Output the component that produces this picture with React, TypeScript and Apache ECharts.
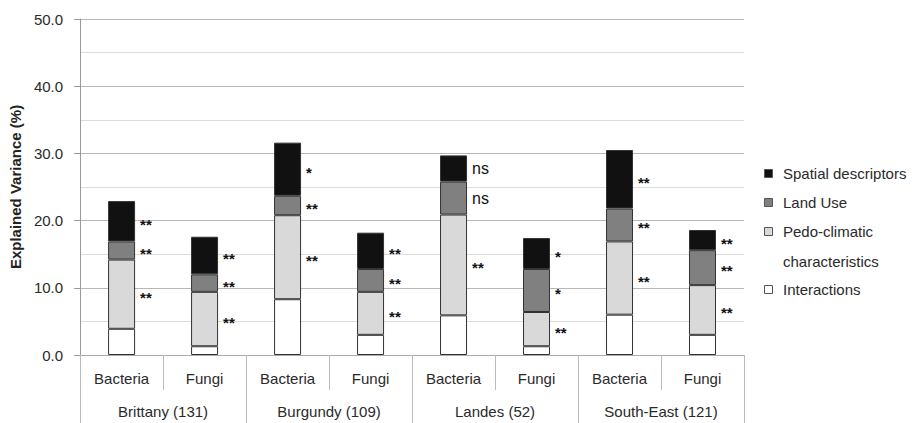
import React, { useEffect, useRef } from "react";
import * as echarts from "echarts";

const groups = ["Bacteria", "Fungi", "Bacteria", "Fungi", "Bacteria", "Fungi", "Bacteria", "Fungi"];
const regions = ["Brittany (131)", "Burgundy (109)", "Landes (52)", "South-East (121)"];

const interactions = [3.9, 1.3, 8.3, 3.0, 5.9, 1.3, 6.0, 3.0];
const pedoClimatic = [10.3, 8.1, 12.5, 6.4, 15.0, 5.1, 10.9, 7.4];
const landUse = [2.7, 2.6, 2.9, 3.4, 4.9, 6.4, 4.9, 5.2];
const spatial = [6.0, 5.6, 7.9, 5.4, 3.9, 4.6, 8.7, 3.0];

const sigPedo = ["**", "**", "**", "**", "**", "**", "**", "**"];
const sigLand = ["**", "**", "**", "**", "ns", "*", "**", "**"];
const sigSpatial = ["**", "**", "*", "**", "ns", "*", "**", "**"];

const yTicks = [0, 10, 20, 30, 40, 50];

const FONT = "Arial, 'Liberation Sans', sans-serif";

function sigLabel(sig: string[] | null) {
  if (!sig) return { show: false };
  return {
    show: true,
    position: "right",
    distance: 5,
    formatter: (p: any) => {
      const s = sig[p.dataIndex];
      return s === "ns" ? "{ns|ns}" : "{st|" + s + "}";
    },
    rich: {
      st: { fontSize: 15, fontWeight: "bold", color: "#111", fontFamily: FONT, padding: [6, 0, 0, 0] },
      ns: { fontSize: 16, color: "#111", fontFamily: FONT },
    },
  };
}

export default function App() {
  const ref = useRef<HTMLDivElement>(null);
  useEffect(() => {
    if (!ref.current) return;
    const chart = echarts.init(ref.current, null, { renderer: "svg" });
    const mk = (name: string, data: number[], color: string, sig: string[] | null) => ({
      name,
      type: "bar",
      stack: "total",
      xAxisIndex: 0,
      barWidth: 27,
      data,
      itemStyle: { color, borderColor: "#333", borderWidth: 1 },
      label: sigLabel(sig),
      emphasis: { disabled: true },
    });
    const legendItems = [
      { name: "Spatial descriptors", color: "#111111", y: 173 },
      { name: "Land Use", color: "#808080", y: 202 },
      { name: "Pedo-climatic\ncharacteristics", color: "#d9d9d9", y: 231 },
      { name: "Interactions", color: "#ffffff", y: 289 },
    ];
    const graphic: any[] = [];
    legendItems.forEach((it) => {
      graphic.push({
        type: "rect",
        left: 764,
        top: it.y - 4,
        shape: { width: 8, height: 8 },
        style: { fill: it.color, stroke: "#555", lineWidth: 1 },
      });
      graphic.push({
        type: "text",
        left: 783,
        top: it.y - 15,
        style: {
          text: it.name,
          fontSize: 15,
          lineHeight: 30,
          fontFamily: FONT,
          fill: "#2a2a2a",
        },
      });
    });
    chart.setOption({
      animation: false,
      backgroundColor: "#ffffff",
      grid: { left: 80, right: 171, top: 19, bottom: 68, containLabel: false },
      xAxis: [
        {
          type: "category",
          data: groups,
          position: "bottom",
          axisLine: { show: true, lineStyle: { color: "#aaa" } },
          axisTick: { show: true, interval: 0, length: 35, lineStyle: { color: "#bbb" } },
          axisLabel: { interval: 0, margin: 16, fontSize: 15, color: "#2a2a2a", fontFamily: FONT },
        },
        {
          type: "category",
          data: regions,
          position: "bottom",
          axisLine: { show: false },
          axisTick: { show: true, interval: 0, length: 68, lineStyle: { color: "#bbb" } },
          axisLabel: { interval: 0, margin: 49, fontSize: 15, color: "#2a2a2a", fontFamily: FONT },
        },
      ],
      yAxis: {
        type: "value",
        min: yTicks[0],
        max: yTicks[yTicks.length - 1],
        interval: 10,
        name: "Explained Variance (%)",
        nameLocation: "middle",
        nameGap: 43,
        nameTextStyle: { fontSize: 15, fontWeight: "bold", color: "#222", fontFamily: FONT },
        axisLine: { show: true, lineStyle: { color: "#999" } },
        axisTick: { show: true, length: 6, lineStyle: { color: "#999" } },
        axisLabel: {
          margin: 17,
          fontSize: 15,
          color: "#2a2a2a",
          fontFamily: FONT,
          formatter: (v: number) => v.toFixed(1),
        },
        splitLine: { show: true, lineStyle: { color: "#b8b8b8" } },
        minorTick: { show: false, splitNumber: 2 },
        minorSplitLine: { show: true, lineStyle: { color: "#dcdcdc" } },
      },
      series: [
        mk("Interactions", interactions, "#ffffff", null),
        mk("Pedo-climatic characteristics", pedoClimatic, "#d9d9d9", sigPedo),
        mk("Land Use", landUse, "#808080", sigLand),
        mk("Spatial descriptors", spatial, "#111111", sigSpatial),
      ],
      graphic,
    });
    return () => chart.dispose();
  }, []);
  return (
    <div
      ref={ref}
      style={{ position: "fixed", left: 0, top: 0, width: 915, height: 423, background: "#fff" }}
    />
  );
}
